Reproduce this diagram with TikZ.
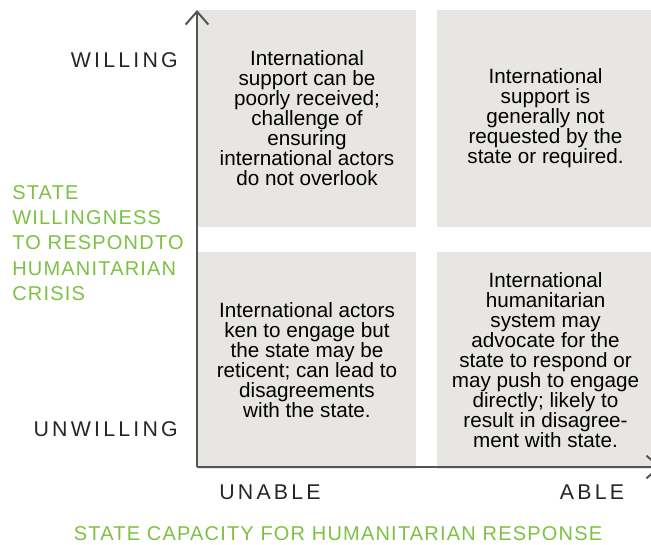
\documentclass[tikz,border=0pt]{standalone}
\usepackage{fontspec}
\setmainfont{Liberation Sans}
\newfontfamily\qaxisfont[LetterSpace=15]{Liberation Sans}
\newfontfamily\qtitlefont[LetterSpace=6]{Liberation Sans}
\usetikzlibrary{arrows.meta,positioning}
\definecolor{qgray}{HTML}{E8E6E2}
\definecolor{qgreen}{HTML}{7DC142}
\definecolor{qaxis}{HTML}{555555}
\tikzset{
  qbox/.style={
    fill=qgray, draw=none, inner sep=0pt,
    minimum width=163.5pt, minimum height=162.75pt,
    align=center, font=\fontsize{15.5}{15}\selectfont
  },
  qaxis/.style={
    draw=qaxis, line width=1.5pt,
    -{Straight Barb[length=9.75pt,width=17pt]}
  },
  qtick/.style={font=\qaxisfont\fontsize{16}{18}\selectfont, text=black!85, inner sep=0pt},
  qtitle/.style={font=\qtitlefont\fontsize{15}{19}\selectfont, text=qgreen, inner sep=0pt}
}

\begin{document}
\begin{tikzpicture}[x=0.75pt,y=-0.75pt]
  \useasboundingbox (0,0) rectangle (651,545);
  % quadrants
  \node[qbox] (tl) at (307,118.5) {International\\ support can be\\ poorly received;\\ challenge of\\ ensuring\\ international actors\\ do not overlook};
  \node[qbox,right=15pt of tl] (tr) {International\\ support is\\ generally not\\ requested by the\\ state or required.};
  \node[qbox,below=18pt of tl] (bl) {International actors\\ ken to engage but\\ the state may be\\ reticent; can lead to\\ disagreements\\ with the state.};
  \node[qbox,below=18pt of tr] (br) {International\\ humanitarian\\ system may\\ advocate for the\\ state to respond or\\ may push to engage\\ directly; likely to\\ result in disagree-\\ ment with state.};
  % axes
  \coordinate (origin) at (197,467);
  \coordinate (ytop) at (197,10);
  \coordinate (xend) at (661,467);
  \draw[qaxis] (origin) -- (ytop);
  \draw[qaxis] (origin) -- (xend);
  % axis labels
  \node[qtick,anchor=base east] (willing) at (178,68) {WILLING};
  \node[qtick,anchor=base east] (unwilling) at (178,437) {UNWILLING};
  \node[qtick,anchor=base] (unable) at (270,500) {UNABLE};
  \node[qtick,anchor=base] (able) at (592,500) {ABLE};
  \node[qtitle,anchor=north west,align=left] (ytitle) at (12,185) {STATE\\ WILLINGNESS\\ TO RESPOND\hspace{1pt}TO\\ HUMANITARIAN\\ CRISIS};
  \node[qtitle,anchor=base] (xtitle) at (338,541) {STATE CAPACITY FOR HUMANITARIAN RESPONSE};
\end{tikzpicture}
\end{document}
